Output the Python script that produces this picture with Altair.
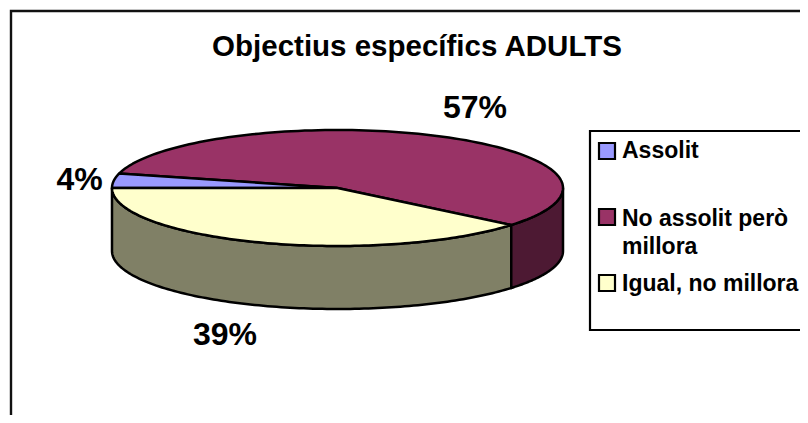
import altair as alt
import numpy as np
import pandas as pd

categories = ["Assolit", "No assolit però millora", "Igual, no millora"]
values = [4, 57, 39]
percent_labels = ["4%", "57%", "39%"]
legend_lines = [["Assolit"], ["No assolit però", "millora"], ["Igual, no millora"]]
top_colors = ["#9999FF", "#993366", "#FFFFCC"]
side_colors = ["#4D4D80", "#4D1933", "#808066"]
title_text = "Objectius específics ADULTS"

W, H = 792, 407
OX, OY = 8, 8
CX, CY, RX, RY, DEPTH = 337.5 - OX, 188 - OY, 225.5, 58, 63
FONT = "Liberation Sans"

x_s = alt.Scale(domain=[0, W], range=[0, W], nice=False, zero=False)
y_s = alt.Scale(domain=[0, H], range=[0, H], nice=False, zero=False)
X = lambda f: alt.X(f, type="quantitative", scale=x_s, axis=None)
Y = lambda f: alt.Y(f, type="quantitative", scale=y_s, axis=None)

total = sum(values)
spans = [v / total * 360 for v in values]
yellow_start = 180.0
yellow_end = yellow_start + spans[2]
purple_end = yellow_end + spans[1]
blue_end = purple_end + spans[0]
ranges = [(purple_end, blue_end), (yellow_end, purple_end), (yellow_start, yellow_end)]


def ell(t, dy=0.0):
    r = np.radians(t)
    return CX + RX * np.cos(r), CY - RY * np.sin(r) + dy


def poly(xs, ys, fill, sw=2.5):
    d = pd.DataFrame({"x": xs, "y": ys, "i": np.arange(len(xs))})
    return (
        alt.Chart(d)
        .mark_line(fill=fill, stroke="black", strokeWidth=sw, strokeJoin="round", clip=False)
        .encode(x=X("x"), y=Y("y"), order=alt.Order("i:Q"))
    )


def top(a, b, fill):
    t = np.linspace(a, b, 120)
    ex, ey = ell(t)
    return poly(np.r_[CX, ex, CX], np.r_[CY, ey, CY], fill)


def wall(a, b, fill):
    t = np.linspace(a, b, 120)
    ex, ey = ell(t)
    bx, by = ell(t[::-1], DEPTH)
    return poly(np.r_[ex, bx, ex[0]], np.r_[ey, by, ey[0]], fill)


layers = []
frame = pd.DataFrame({"x": [3, 3, W + 30], "y": [H + 30, 3, 3], "i": [0, 1, 2]})
layers.append(
    alt.Chart(frame).mark_line(stroke="#111111", strokeWidth=2.4, clip=True).encode(x=X("x"), y=Y("y"), order="i:Q")
)

layers.append(wall(yellow_start, yellow_end, side_colors[2]))
layers.append(wall(yellow_end, 360, side_colors[1]))
layers.append(top(*ranges[1], top_colors[1]))
layers.append(top(*ranges[0], top_colors[0]))
layers.append(top(*ranges[2], top_colors[2]))


def txt(s, x, y, size, align="left"):
    return (
        alt.Chart(pd.DataFrame({"x": [x], "y": [y], "s": [s]}))
        .mark_text(font=FONT, fontWeight="bold", fontSize=size, align=align, baseline="alphabetic", color="black")
        .encode(x=X("x"), y=Y("y"), text="s:N")
    )


layers.append(txt(title_text, 417 - OX, 55.5 - OY, 29.5, "center"))
label_pos = [(79.5, 190), (475, 118), (225, 345)]
for s, (lx, ly) in zip(percent_labels, label_pos):
    layers.append(txt(s, lx - OX, ly - OY, 32, "center"))

box = pd.DataFrame({"x": [W + 30, 590 - OX, 590 - OX, W + 30], "y": [131 - OY, 131 - OY, 330 - OY, 330 - OY], "i": [0, 1, 2, 3]})
layers.append(
    alt.Chart(box).mark_line(stroke="black", strokeWidth=2.2, clip=True).encode(x=X("x"), y=Y("y"), order="i:Q")
)
swatch_top = [143, 209, 275]
baselines = [[158], [226, 254], [291]]
for c, st, lines, bl in zip(top_colors, swatch_top, legend_lines, baselines):
    d = pd.DataFrame({"x": [599 - OX], "x2": [615 - OX], "y": [st - OY], "y2": [st + 16 - OY]})
    layers.append(
        alt.Chart(d).mark_rect(fill=c, stroke="black", strokeWidth=2.2).encode(x=X("x"), x2="x2:Q", y=Y("y"), y2="y2:Q")
    )
    for s, b in zip(lines, bl):
        layers.append(txt(s, 622 - OX, b - OY, 23))

chart = (
    alt.layer(*layers)
    .properties(width=W, height=H, padding=0, background="white", view=alt.ViewConfig(stroke=None), autosize=alt.AutoSizeParams(type="none"))
)
chart.save("out.html", embed_options={"renderer": "svg", "actions": False})
